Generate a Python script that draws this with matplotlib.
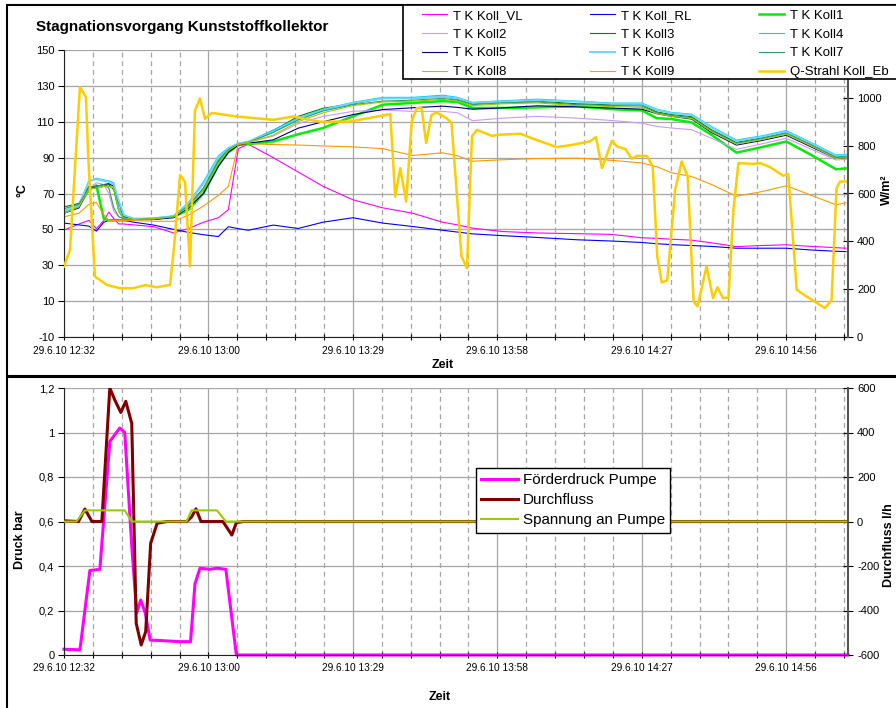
import matplotlib.pyplot as plt
from matplotlib.patches import Rectangle
from matplotlib.ticker import FuncFormatter

plt.rcParams['font.family'] = ['Liberation Sans', 'DejaVu Sans']
plt.rcParams['axes.unicode_minus'] = False

# time axis (minutes after 12:32)
TICK_LABELS = ['29.6.10 12:32', '29.6.10 13:00', '29.6.10 13:29',
               '29.6.10 13:58', '29.6.10 14:27', '29.6.10 14:56']
MAJOR = [0, 29, 58, 87, 116, 145]
X_END = 157.4

# collector temperatures (°C)
T_MIN = [0, 3, 5, 6.5, 8, 9, 10, 11, 12, 14, 18, 22, 25, 28, 31, 33, 35, 37, 42, 47, 52,
         58, 64, 70, 76, 79, 82, 88, 95, 103, 110, 116, 119, 122, 126, 130, 135, 140, 145,
         150, 155, 157]
KOLL_VL = [49.6, 53, 55, 50.4, 55, 59.6, 56, 53, 53, 52.5, 51.5, 48, 50.5, 54, 56.5, 61,
           95, 97.5, 90, 82, 74, 66.5, 62, 59, 54, 52.5, 50.7, 48.8, 48, 47.6, 47.2, 45.3,
           45, 44.5, 44, 42.5, 40.4, 41, 41.4, 40.5, 39.8, 39.5]
KOLL_RL = [53.5, 52.5, 51.8, 49, 54, 55, 55.5, 55.5, 55, 54, 52.4, 50, 48.3, 47, 46, 51.5,
           50.4, 49.5, 52.4, 50.5, 54, 56.5, 53.5, 51.6, 49.5, 48.5, 47.5, 46.5, 45.5, 44.2,
           43.5, 42.7, 42, 41.5, 41, 40.5, 39.5, 39.5, 39.5, 38.5, 37.8, 37.6]
KOLL1 = [60, 63, 72, 74.5, 56, 55, 55, 55, 55, 55.5, 56, 57, 61, 70, 86, 93, 97, 97.5, 99,
         103, 106.5, 113, 119.5, 120.5, 121.5, 121, 117.7, 117.7, 118, 118.6, 117, 116.3,
         112, 111.5, 109.6, 102.7, 92.8, 95.8, 99, 91.5, 83.5, 84]
KOLL2 = [59, 62, 72, 76, 75, 70, 60, 57, 56, 55.5, 56, 57, 63, 73, 88, 94, 97.5, 98.5, 102,
         109, 113, 115.8, 116.5, 115.8, 115.8, 115, 110.6, 112, 113, 112, 110.7, 109.2,
         107.4, 106.5, 105.6, 100.8, 94.6, 97.6, 100.8, 94.7, 88.7, 89]
KOLL3 = [62.5, 64.5, 74, 73, 74, 75, 72, 60, 56, 55.5, 56, 57, 63, 72, 88, 94, 97.5, 98.5,
         105, 113, 117.5, 120, 123, 123, 124, 122.5, 120, 121, 121.5, 120, 119.5, 119.5,
         115.5, 114, 112.8, 105.5, 98.5, 101, 104, 97.5, 90.5, 91]
KOLL4 = [59, 63, 76.6, 78.5, 77.6, 77, 76, 62, 57, 56, 56, 57.5, 65, 76.6, 91, 95.5, 98,
         99, 105.4, 112, 117, 120.8, 123.6, 123.6, 124.8, 123.6, 120.8, 121.7, 122.6,
         121.5, 120.4, 120.4, 117, 115.2, 114.2, 107.3, 99.8, 102.1, 105.1, 98.4, 91.5, 91.9]
KOLL5 = [59, 62, 73, 74, 75, 75.5, 74, 65, 57, 55.5, 55.5, 56.5, 62, 70, 85, 93, 97, 98,
         99.9, 106.4, 110, 114, 116.8, 117.8, 118.7, 118, 117, 117.7, 118.9, 118.3, 117.6,
         117, 114.5, 113, 111.5, 104, 97, 99.5, 102.5, 96, 89.5, 90]
KOLL6 = [60, 63.5, 77, 78, 77, 76.5, 75, 66, 58, 56, 56, 57.5, 64.5, 75.5, 90, 95, 97.8,
         98.8, 104.5, 111.5, 116.5, 120.5, 123, 123, 124, 123, 120.5, 121.2, 122, 121.2,
         120, 120, 116.5, 114.8, 113.8, 106.8, 99.3, 101.6, 104.5, 98, 91, 91.4]
KOLL7 = [61.5, 64, 73, 74, 75, 73, 62, 57, 56, 55.5, 56, 57, 63.5, 73, 88.5, 94.5, 97.5,
         98.5, 104, 111, 116, 119.5, 121.5, 122, 123, 122, 119.5, 120.5, 121, 119.5, 119,
         118.8, 115, 113.5, 112.3, 105, 98, 100.5, 103.5, 97, 90, 90.5]
KOLL8 = [59, 62.5, 72.5, 73, 74, 74, 73, 60, 56.5, 55.5, 56, 57, 62.5, 72, 87, 94, 97.5,
         98.5, 102.5, 110, 115, 119, 121, 121.5, 122.5, 121.5, 119, 120, 120.5, 119, 118.5,
         118, 114.5, 113, 111.8, 104.5, 97.5, 100, 103, 96.5, 89.5, 90]
KOLL9 = [57, 59, 64, 65, 58, 55, 55, 55, 55, 55, 54.5, 54.5, 58, 63, 69, 74, 97.5, 97.8,
         97.3, 97, 96.5, 96, 95, 91.2, 92.7, 91, 88, 88.8, 89.5, 89.7, 88.5, 87, 85, 81.5,
         79.5, 75, 68.5, 71, 74.3, 69, 63.7, 64.8]

# irradiance (W/m²)
Q_MIN = [0, 1.2, 3.2, 4.4, 4.9, 6.2, 8.6, 11.2, 13.9, 16.3, 18.6, 21.3, 22.1, 23.3, 24.3,
         25.3, 26.3, 27.3, 28.3, 29.7, 34.7, 42, 46, 51.4, 57.4, 65.5, 66.5, 67.5, 68.7,
         69.8, 70.8, 71.8, 72.7, 73.8, 74.8, 76.8, 77.8, 79.8, 80.9, 81.9, 82.9, 85.9, 87.5,
         91.6, 94.2, 98.9, 102.2, 105.6, 106.8, 108, 110, 111, 112.7, 114, 115, 117, 118.2,
         119.1, 120, 121.1, 122.7, 124, 125.2, 126.4, 127.2, 129, 130.3, 131.2, 132.3, 133.4,
         134.4, 135.4, 138.4, 139.8, 141.8, 144.4, 145.4, 147.1, 149.1, 152.8, 154.1, 155.1,
         155.8, 157.2]
Q_STRAHL = [295, 364, 1045, 1003, 739, 253, 218, 204, 204, 217, 208, 218, 378, 677, 649,
            295, 947, 998, 912, 937, 922, 908, 922, 900, 901, 932, 587, 706, 566, 901, 957,
            957, 811, 929, 939, 915, 895, 337, 288, 839, 866, 841, 846, 850, 829, 794, 804,
            818, 836, 706, 820, 797, 786, 745, 757, 757, 713, 337, 228, 236, 616, 734, 671,
            148, 128, 295, 162, 208, 162, 165, 532, 727, 724, 727, 710, 674, 682, 198, 169,
            121, 155, 622, 650, 650]

# pump data
P_MIN = [0, 3.2, 5.2, 7.2, 9.2, 11.2, 12.2, 13.6, 14.6, 15.4, 16.3, 17.3, 19.3, 23.3, 25.4,
         26.3, 27.3, 29.3, 30.7, 32.5, 34.6, 157.4]
FOERDERDRUCK = [0.026, 0.023, 0.38, 0.385, 0.96, 1.02, 1.0, 0.49, 0.19, 0.247, 0.19, 0.067,
                0.065, 0.06, 0.06, 0.32, 0.39, 0.385, 0.39, 0.385, 0.0, 0.0]
D_MIN = [0, 2.9, 4.2, 5.6, 7.6, 9.2, 10.2, 11.4, 12.4, 13.6, 14.5, 15.5, 16.4, 17.4, 18.7,
         20.6, 24.6, 25.6, 26.5, 27.5, 31.9, 33.7, 34.6, 36, 157.4]
DURCHFLUSS = [3, 0, 56, 0, 0, 600, 546, 490, 540, 441, -458, -555, -495, -98, -8, 0, 0, 20,
              57, 0, 0, -61, -5, 0, 0]
S_MIN = [0, 2.5, 4.2, 12.2, 13.6, 24.6, 25.6, 30.7, 32.5, 157.4]
SPANNUNG = [0, 0, 50, 50, 0, 0, 50, 50, 0, 0]

W, H = 896, 708
fig = plt.figure(figsize=(W / 100, H / 100), dpi=100)

minor = [5.8 * k for k in range(1, 28) if k % 5 != 0 and 5.8 * k < X_END]
GRID = '#a6a6a6'


def base_style(a):
    a.set_xlim(0, X_END)
    a.set_xticks(MAJOR)
    a.set_xticklabels(TICK_LABELS, fontsize=7.3)
    a.set_xticks(minor, minor=True)
    a.grid(True, which='major', color=GRID, lw=0.9)
    a.grid(True, which='minor', axis='x', color=GRID, lw=0.9, ls=(0, (4, 3)))
    a.set_axisbelow(True)
    a.tick_params(axis='x', which='both', direction='inout', length=5, width=0.8, pad=4)
    a.tick_params(axis='y', direction='out', length=4, width=0.8, labelsize=8, pad=3)
    for s in ('top', 'right'):
        a.spines[s].set_visible(False)
    for s in ('left', 'bottom'):
        a.spines[s].set_color('#222222')


def right_style(a):
    for s in ('top', 'left', 'bottom'):
        a.spines[s].set_visible(False)
    a.spines['right'].set_color('#555555')
    a.spines['right'].set_linewidth(1.5)
    a.tick_params(axis='y', direction='inout', length=7, width=0.8, labelsize=8, pad=3)


# ---- top chart ----
ax = fig.add_axes([64 / W, 1 - 337 / H, 784 / W, 287 / H])
base_style(ax)
ax.set_ylim(-10, 150)
ax.set_yticks(range(-10, 151, 20))

series = [
    ('T K Koll_VL', KOLL_VL, '#ff00ff', 0.8),
    ('T K Koll_RL', KOLL_RL, '#0000ff', 0.8),
    ('T K Koll1', KOLL1, '#00ee00', 1.8),
    ('T K Koll2', KOLL2, '#cc99ff', 0.8),
    ('T K Koll3', KOLL3, '#008000', 0.8),
    ('T K Koll4', KOLL4, '#00ccff', 0.8),
    ('T K Koll5', KOLL5, '#000080', 0.8),
    ('T K Koll6', KOLL6, '#66d9ff', 1.4),
    ('T K Koll7', KOLL7, '#339966', 0.8),
    ('T K Koll8', KOLL8, '#99cc00', 0.8),
    ('T K Koll9', KOLL9, '#ff9900', 0.8),
]
lines = {}
for name, vals, col, lw in series:
    lines[name], = ax.plot(T_MIN, vals, color=col, lw=lw, label=name)

ax_r = ax.twinx()
right_style(ax_r)
ax_r.set_xlim(0, X_END)
ax_r.set_ylim(0, 1200)
ax_r.set_yticks(range(0, 1201, 200))
lines['Q-Strahl Koll_Eb'], = ax_r.plot(Q_MIN, Q_STRAHL, color='#ffcc00', lw=1.8,
                                       label='Q-Strahl Koll_Eb')

# legend box of the top chart runs past the right edge of the picture
fig.add_artist(Rectangle((403 / W, 1 - 79 / H), 0.6, 74 / H, transform=fig.transFigure,
                         facecolor='white', edgecolor='black', lw=1.2, zorder=4))
order = ['T K Koll_VL', 'T K Koll2', 'T K Koll5', 'T K Koll8',
         'T K Koll_RL', 'T K Koll3', 'T K Koll6', 'T K Koll9',
         'T K Koll1', 'T K Koll4', 'T K Koll7', 'Q-Strahl Koll_Eb']
leg = fig.legend([lines[n] for n in order], order, loc='upper left',
                 bbox_to_anchor=(422 / W, 1 - 9.5 / H), borderaxespad=0, ncol=3,
                 fontsize=9.5, frameon=False, handlelength=1.9, handletextpad=0.45,
                 columnspacing=5.1, labelspacing=0.5, borderpad=0)

# ---- bottom chart ----
axb = fig.add_axes([64 / W, 1 - 655 / H, 784 / W, 267 / H])
base_style(axb)
axb.set_ylim(0, 1.2)
axb.set_yticks([0, 0.2, 0.4, 0.6, 0.8, 1.0, 1.2])
axb.yaxis.set_major_formatter(FuncFormatter(lambda v, _: f'{v:g}'.replace('.', ',')))
axb.tick_params(axis='x', pad=3)
l1, = axb.plot(P_MIN, FOERDERDRUCK, color='#ff00ff', lw=2.2, clip_on=False,
               label='Förderdruck Pumpe')

axb_r = axb.twinx()
right_style(axb_r)
axb_r.set_xlim(0, X_END)
axb_r.set_ylim(-600, 600)
axb_r.set_yticks(range(-600, 601, 200))
l2, = axb_r.plot(D_MIN, DURCHFLUSS, color='#800000', lw=2.2, label='Durchfluss')
l3, = axb_r.plot(S_MIN, SPANNUNG, color='#99cc00', lw=1.5, label='Spannung an Pumpe')

leg2 = fig.legend([l1, l2, l3], ['Förderdruck Pumpe', 'Durchfluss', 'Spannung an Pumpe'],
                  loc='upper left', bbox_to_anchor=(476 / W, 1 - 468 / H), borderaxespad=0,
                  fontsize=10.9, fancybox=False, edgecolor='black', framealpha=1,
                  handlelength=2.4, handletextpad=0.35, labelspacing=0.4, borderpad=0.35)
leg2.get_frame().set_linewidth(1.0)

# ---- labels and panel borders ----
fig.text(36 / W, 1 - 27 / H, 'Stagnationsvorgang Kunststoffkollektor', fontsize=11,
         weight='bold', va='center')
fig.text(22 / W, 1 - 190 / H, '°C', rotation=90, fontsize=9, weight='bold',
         ha='center', va='center')
fig.text(887 / W, 1 - 190 / H, 'W/m²', rotation=90, fontsize=9, weight='bold',
         ha='center', va='center')
fig.text(443 / W, 1 - 365 / H, 'Zeit', fontsize=9, weight='bold', ha='center', va='center')
fig.text(20 / W, 1 - 540 / H, 'Druck bar', rotation=90, fontsize=9, weight='bold',
         ha='center', va='center')
fig.text(889 / W, 1 - 545 / H, 'Durchfluss l/h', rotation=90, fontsize=9, weight='bold',
         ha='center', va='center')
fig.text(440 / W, 1 - 697 / H, 'Zeit', fontsize=9, weight='bold', ha='center', va='center')

fig.add_artist(Rectangle((7 / W, 1 - 376 / H), 1, 371 / H, transform=fig.transFigure,
                         fill=False, lw=1.5, edgecolor='black'))
fig.add_artist(Rectangle((7 / W, -0.01), 1, 1 - 377 / H + 0.01, transform=fig.transFigure,
                         fill=False, lw=1.5, edgecolor='black'))

fig.savefig('out.png', dpi=100)
